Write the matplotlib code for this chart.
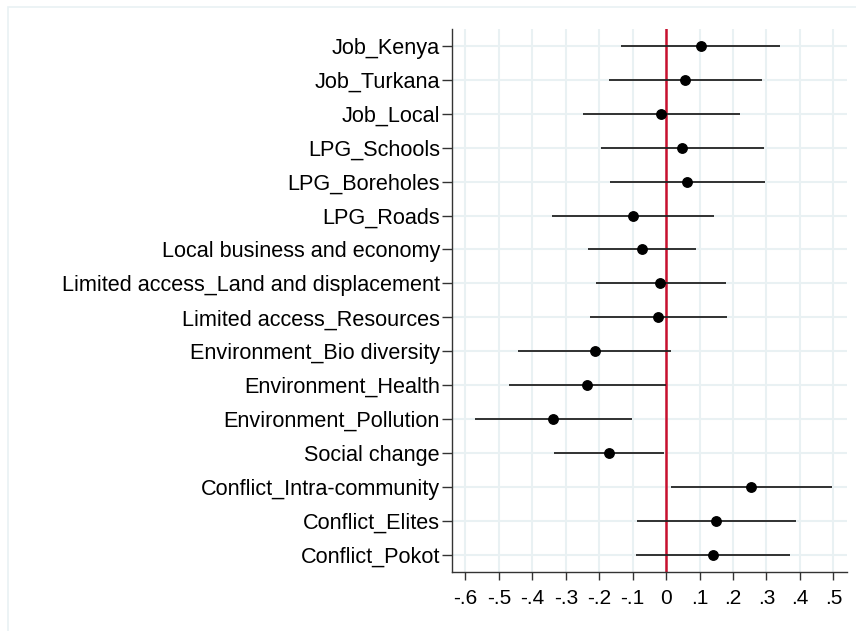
import numpy as np
import matplotlib.pyplot as plt
from matplotlib.patches import Rectangle

plt.rcParams['font.family'] = ['Liberation Sans', 'DejaVu Sans']

# coefficient plot data
labels = ["Job_Kenya", "Job_Turkana", "Job_Local", "LPG_Schools", "LPG_Boreholes",
          "LPG_Roads", "Local business and economy", "Limited access_Land and displacement",
          "Limited access_Resources", "Environment_Bio diversity", "Environment_Health",
          "Environment_Pollution", "Social change", "Conflict_Intra-community",
          "Conflict_Elites", "Conflict_Pokot"]
coef = [0.104, 0.057, -0.015, 0.048, 0.062, -0.100, -0.073, -0.017, -0.023,
        -0.213, -0.237, -0.338, -0.170, 0.255, 0.150, 0.140]
ci_lo = [-0.135, -0.172, -0.247, -0.196, -0.169, -0.340, -0.233, -0.210, -0.228,
         -0.443, -0.471, -0.572, -0.334, 0.015, -0.086, -0.089]
ci_hi = [0.341, 0.288, 0.220, 0.293, 0.295, 0.142, 0.089, 0.178, 0.183,
         0.016, -0.001, -0.103, -0.007, 0.497, 0.387, 0.369]
xticks = [-0.6, -0.5, -0.4, -0.3, -0.2, -0.1, 0, 0.1, 0.2, 0.3, 0.4, 0.5]
xticklabels = ["-.6", "-.5", "-.4", "-.3", "-.2", "-.1", "0", ".1", ".2", ".3", ".4", ".5"]

gridc = '#e9f1f3'
fig = plt.figure(figsize=(8.56, 6.31), dpi=100)
fig.patches.append(Rectangle((8/856, -0.1), 1.2, 1 - 7/631 + 0.1, transform=fig.transFigure,
                             fill=False, edgecolor=gridc, linewidth=1.2))
ax = fig.add_axes([451.7/856, 1 - 571.7/631, (846.7 - 451.7)/856, (571.7 - 29)/631])

y = np.arange(1, len(labels) + 1)
ax.hlines(y, ci_lo, ci_hi, color='#222222', linewidth=1.3, zorder=3)
ax.plot(coef, y, 'o', color='black', markersize=6.8, zorder=4)
ax.axvline(0, color='#c8102e', linewidth=1.8, zorder=2)

ax.set_xlim(-0.641, 0.540)
ax.set_ylim(len(labels) + 0.5, 0.5)
ax.set_yticks(y)
ax.set_yticklabels(labels, fontsize=15.6)
ax.set_xticks(xticks)
ax.set_xticklabels(xticklabels, fontsize=15)

ax.grid(True, color=gridc, linewidth=1.5, zorder=0)
ax.set_axisbelow(True)
for s in ['top', 'right']:
    ax.spines[s].set_visible(False)
for s in ['left', 'bottom']:
    ax.spines[s].set_color('#333333')
    ax.spines[s].set_linewidth(1.0)
ax.tick_params(axis='y', length=7, width=1, color='#333333', pad=1.5)
ax.tick_params(axis='x', length=6, width=1, color='#333333', pad=6.5)

fig.savefig('out.png', dpi=100)
